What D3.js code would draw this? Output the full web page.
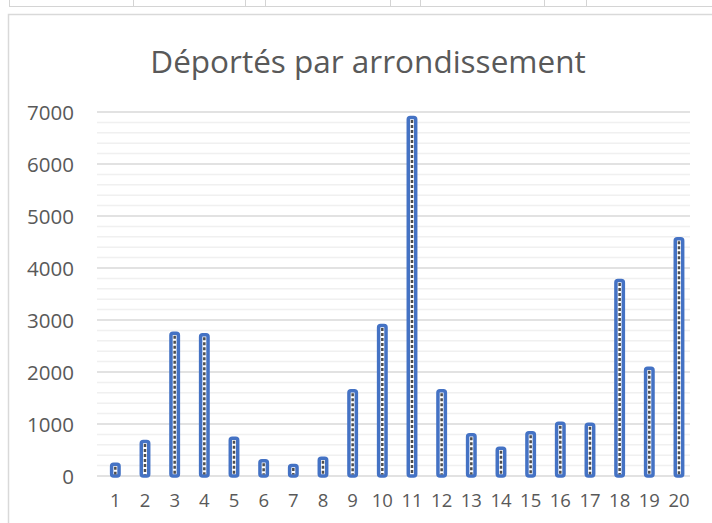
<!DOCTYPE html>
<html>
<head>
<meta charset="utf-8">
<script src="https://cdn.jsdelivr.net/npm/d3@7"></script>
<style>
  html, body { margin: 0; padding: 0; background: #fff; }
  svg { display: block; }
</style>
</head>
<body>
<svg id="chart" width="712" height="523"></svg>
<script>
const title = "Déportés par arrondissement";
const categories = ["1","2","3","4","5","6","7","8","9","10","11","12","13","14","15","16","17","18","19","20"];
const deportes = [227, 663, 2746, 2715, 727, 292, 202, 342, 1638, 2894, 6894, 1638, 792, 535, 830, 1015, 996, 3760, 2073, 4562];
const yTicks = [0, 1000, 2000, 3000, 4000, 5000, 6000, 7000];
const yMinorTicks = d3.range(0, 7001, 200);
const sheetColumns = [9, 133, 245, 265, 390, 420, 544, 586];

const svg = d3.select("#chart");

// spreadsheet strip behind the chart
svg.append("line").attr("x1", 9).attr("x2", 712).attr("y1", 6.5).attr("y2", 6.5)
  .attr("stroke", "#d4d4d4").attr("stroke-width", 1);
svg.selectAll("line.col").data(sheetColumns).join("line").attr("class", "col")
  .attr("x1", d => d + 0.5).attr("x2", d => d + 0.5).attr("y1", 0).attr("y2", 7)
  .attr("stroke", "#d4d4d4").attr("stroke-width", 1);

// chart area border
svg.append("path")
  .attr("d", "M8.5,523 L8.5,14.5 L712,14.5")
  .attr("fill", "none").attr("stroke", "#d9d9d9").attr("stroke-width", 1.5);

const y = d3.scaleLinear().domain([0, 7000]).range([476, 112]);
const x = d3.scaleBand().domain(categories).range([100.5, 693.8]).padding(0);
const gridX1 = 97, gridX2 = 690;

// minor gridlines
svg.append("g").selectAll("line").data(yMinorTicks.filter(v => v % 1000 !== 0)).join("line")
  .attr("x1", gridX1).attr("x2", gridX2)
  .attr("y1", d => y(d)).attr("y2", d => y(d))
  .attr("stroke", "#f0f0f0").attr("stroke-width", 1.5);
// major gridlines
svg.append("g").selectAll("line").data(yTicks).join("line")
  .attr("x1", gridX1).attr("x2", gridX2)
  .attr("y1", d => y(d)).attr("y2", d => y(d))
  .attr("stroke", "#d9d9d9").attr("stroke-width", 1.5);

// y axis labels
const yAxis = d3.axisLeft(y).tickValues(yTicks).tickSize(0).tickPadding(0).tickFormat(d3.format("d"));
const gy = svg.append("g").attr("transform", "translate(74,0)").call(yAxis);
gy.select(".domain").remove();
gy.selectAll("text").attr("font-family", "'Open Sans', sans-serif").attr("font-size", 20.5)
  .attr("fill", "#595959").attr("dy", "0.36em");

// x axis labels
const xAxis = d3.axisBottom(x).tickSize(0).tickPadding(0);
const gx = svg.append("g").attr("transform", "translate(0,494)").call(xAxis);
gx.select(".domain").remove();
gx.selectAll("text").attr("font-family", "'Open Sans', sans-serif").attr("font-size", 18.5)
  .attr("fill", "#595959").attr("dy", "0.7em");

// bars
const barW = x.bandwidth() * 0.25;
const bars = svg.append("g").selectAll("g").data(deportes).join("g");
bars.append("rect")
  .attr("x", (d, i) => x(categories[i]) + x.bandwidth() / 2 - barW / 2)
  .attr("y", d => y(d))
  .attr("width", barW)
  .attr("height", d => y(0) - y(d))
  .attr("rx", 2)
  .attr("fill", "#ffffff")
  .attr("stroke", "#4472C4")
  .attr("stroke-width", 3.5);
bars.append("line")
  .attr("x1", (d, i) => x(categories[i]) + x.bandwidth() / 2)
  .attr("x2", (d, i) => x(categories[i]) + x.bandwidth() / 2)
  .attr("y1", d => y(d) + 2.5)
  .attr("y2", y(0) - 1.5)
  .attr("stroke", "#4d4d4d")
  .attr("stroke-width", 2.5)
  .attr("stroke-dasharray", "3,2");

// title
svg.append("text")
  .attr("x", 368).attr("y", 73)
  .attr("text-anchor", "middle")
  .attr("font-family", "'Open Sans', sans-serif")
  .attr("font-size", 31.5)
  .attr("fill", "#595959")
  .text(title);
</script>
</body>
</html>
